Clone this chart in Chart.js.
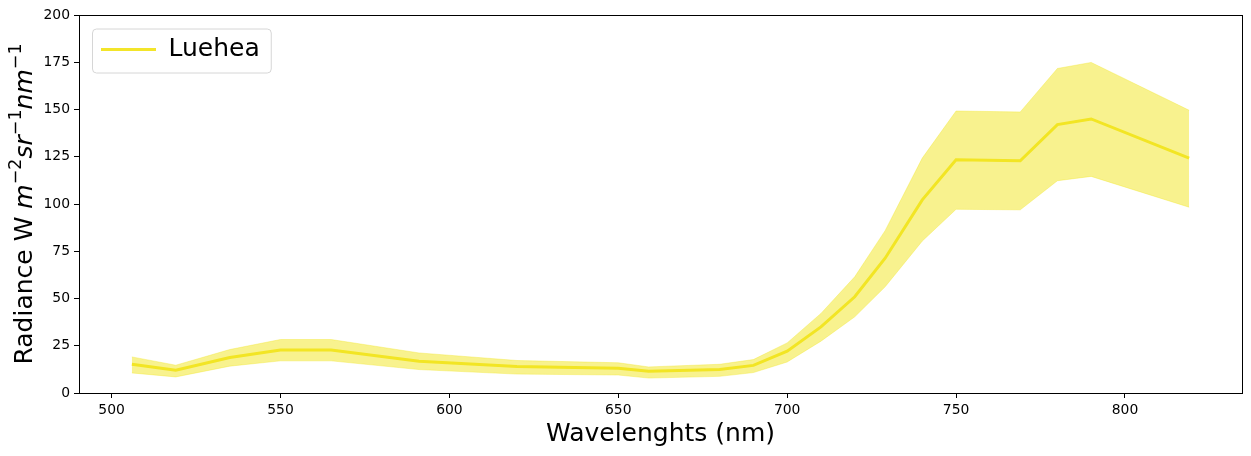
<!DOCTYPE html>
<html>
<head>
<meta charset="utf-8">
<script src="https://cdn.jsdelivr.net/npm/chart.js@4"></script>
<style>
  html, body { margin: 0; padding: 0; background: #fff; }
  #wrap { width: 1251px; height: 456px; }
</style>
</head>
<body>
<div id="wrap"><canvas id="grafico"></canvas></div>
<script>
// values
const wavelengths = [506, 519, 535, 550, 565, 591, 620, 650, 659, 680, 690, 700, 710, 720, 729, 740, 750, 769, 780, 790, 819]
const meanRad  = [15.2, 12.0, 18.8, 22.8, 22.8, 16.8, 14.0, 13.1, 11.5, 12.4, 14.6, 22.1, 35.0, 50.9, 71.3, 102.2, 123.4, 122.9, 142.0, 145.0, 124.3]
const upperRad = [19.1, 14.7, 23.0, 28.3, 28.3, 21.2, 17.2, 16.0, 13.8, 15.2, 17.7, 26.5, 42.1, 61.5, 85.9, 124.3, 149.2, 148.7, 171.7, 174.9, 149.6]
const lowerRad = [10.6, 8.5, 14.2, 17.0, 17.0, 12.4, 10.0, 9.5, 7.9, 8.8, 10.8, 16.4, 27.4, 40.3, 56.2, 80.4, 97.2, 96.9, 112.3, 114.6, 98.3]
const xTicks = [500, 550, 600, 650, 700, 750, 800]
const yTicks = [0, 25, 50, 75, 100, 125, 150, 175, 200]

const speciesName = 'Luehea'
const xTitle = 'Wavelenghts (nm)'
const font = 'DejaVu Sans'

const toPoints = (ys) => wavelengths.map((x, i) => ({ x: x, y: ys[i] }))

// matplotlib-like frame around the axes
const axesBox = {
    id: 'axesBox',
    afterDatasetsDraw(chart) {
        const a = chart.chartArea
        const c = chart.ctx
        c.save()
        c.strokeStyle = '#000'
        c.lineWidth = 1
        c.strokeRect(Math.round(a.left) + 0.5, Math.round(a.top) + 0.5, Math.round(a.right - a.left), Math.round(a.bottom - a.top))
        c.restore()
    }
}

// push the legend a bit lower, then draw a rounded box behind it
const legendFrame = {
    id: 'legendFrame',
    afterLayout(chart) {
        const lg = chart.legend
        if (!lg) return
        lg.top += 15
        lg.bottom += 15
    },
    beforeDraw(chart) {
        const lg = chart.legend
        if (!lg || !lg.legendHitBoxes || !lg.legendHitBoxes.length) return
        const hb = lg.legendHitBoxes[0]
        const cy = hb.top + hb.height / 2
        const x0 = hb.left - 9, x1 = hb.left + hb.width + 11
        const y0 = cy - 21, y1 = cy + 23
        const c = chart.ctx
        c.save()
        c.beginPath()
        c.roundRect(x0 + 0.5, y0 + 0.5, x1 - x0, y1 - y0, 4)
        c.fillStyle = 'rgba(255,255,255,0.8)'
        c.fill()
        c.strokeStyle = '#d6d6d6'
        c.lineWidth = 1
        c.stroke()
        c.restore()
    }
}

// y title with italic units and superscripts
const yTitle = {
    id: 'yTitle',
    afterDraw(chart) {
        const a = chart.chartArea
        const c = chart.ctx
        const big = 25, small = 17.5, raise = 11
        const runs = [
            { t: 'Radiance W ', f: big + 'px "' + font + '"', dy: 0 },
            { t: 'm', f: 'italic ' + big + 'px "' + font + '"', dy: 0 },
            { t: '\u22122', f: small + 'px "' + font + '"', dy: -raise },
            { t: 'sr', f: 'italic ' + big + 'px "' + font + '"', dy: 0 },
            { t: '\u22121', f: small + 'px "' + font + '"', dy: -raise },
            { t: 'nm', f: 'italic ' + big + 'px "' + font + '"', dy: 0 },
            { t: '\u22121', f: small + 'px "' + font + '"', dy: -raise }
        ]
        c.save()
        let total = 0
        runs.forEach(r => { c.font = r.f; r.w = c.measureText(r.t).width; total += r.w })
        c.translate(31.5, (a.top + a.bottom) / 2)
        c.rotate(-Math.PI / 2)
        c.fillStyle = '#000'
        c.textBaseline = 'alphabetic'
        c.textAlign = 'left'
        let x = -total / 2
        runs.forEach(r => { c.font = r.f; c.fillText(r.t, x, r.dy); x += r.w })
        c.restore()
    }
}

const ctx = document.getElementById('grafico')

new Chart(ctx, {
    type: 'line',
    data: {
        datasets: [
            {
                label: 'lower',
                data: toPoints(lowerRad),
                borderColor: 'rgba(241,229,29,0.35)',
                borderWidth: 1,
                pointRadius: 0,
                fill: false
            },
            {
                label: 'upper',
                data: toPoints(upperRad),
                borderColor: 'rgba(241,229,29,0.35)',
                borderWidth: 1,
                backgroundColor: 'rgba(241,229,29,0.5)',
                pointRadius: 0,
                fill: '-1'
            },
            {
                label: speciesName,
                data: toPoints(meanRad),
                borderColor: '#f3e52a',
                backgroundColor: '#f3e52a',
                borderWidth: 3,
                pointRadius: 0,
                fill: false
            }
        ]
    },
    options: {
        responsive: true,
        maintainAspectRatio: false,
        devicePixelRatio: 1,
        animation: false,
        layout: { padding: { top: 15, right: 9, bottom: 0, left: 0 } },
        plugins: {
            tooltip: { enabled: false },
            legend: {
                position: 'chartArea',
                align: 'start',
                labels: {
                    filter: (item) => item.text === speciesName,
                    usePointStyle: true,
                    pointStyle: 'line',
                    pointStyleWidth: 55,
                    padding: 22,
                    color: '#000',
                    font: { family: font, size: 25 }
                }
            }
        },
        scales: {
            x: {
                type: 'linear',
                min: 490.35,
                max: 834.65,
                afterFit: (s) => { s.height = 63 },
                afterBuildTicks: (s) => { s.ticks = xTicks.map(v => ({ value: v })) },
                border: { display: true, color: '#000', width: 1 },
                grid: { display: true, drawOnChartArea: false, drawTicks: true, tickLength: 5, color: '#000' },
                ticks: { color: '#000', padding: 4, maxRotation: 0, font: { family: font, size: 13.9 } },
                title: {
                    display: true,
                    text: xTitle,
                    color: '#000',
                    font: { family: font, size: 25 },
                    padding: { top: 0, bottom: 7 }
                }
            },
            y: {
                min: 0,
                max: 200,
                afterFit: (s) => { s.width = 79 },
                afterBuildTicks: (s) => { s.ticks = yTicks.map(v => ({ value: v })) },
                border: { display: true, color: '#000', width: 1 },
                grid: { display: true, drawOnChartArea: false, drawTicks: true, tickLength: 5, color: '#000' },
                ticks: { color: '#000', padding: 4, font: { family: font, size: 13.9 } }
            }
        }
    },
    plugins: [legendFrame, axesBox, yTitle]
})
</script>
</body>
</html>
